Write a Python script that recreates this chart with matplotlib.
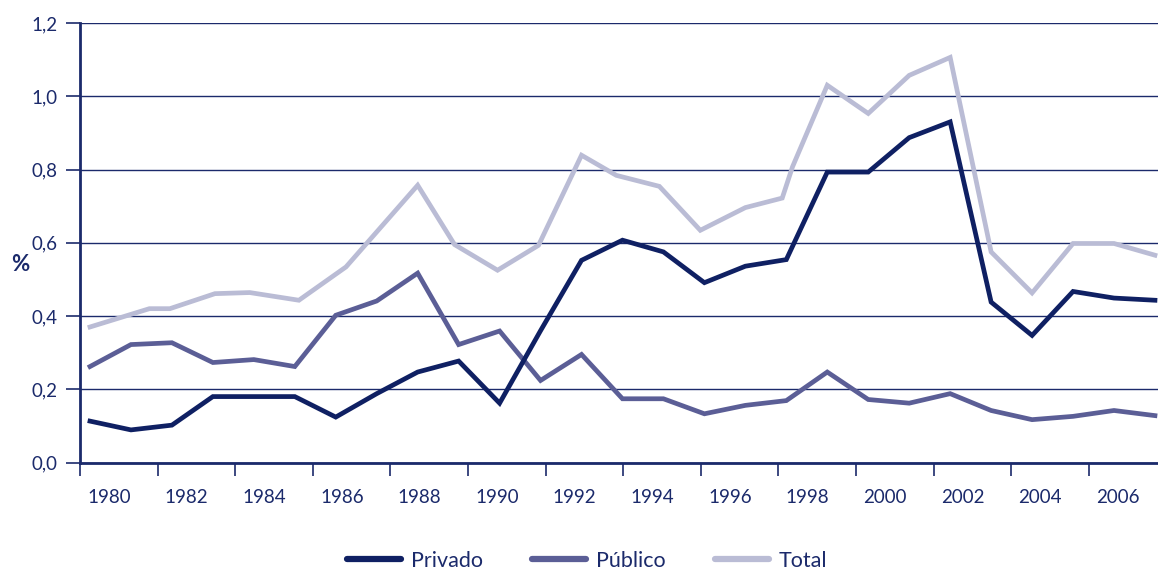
import matplotlib
matplotlib.use("Agg")
import matplotlib.pyplot as plt
import numpy as np

# ---- data ----
years = list(range(1980, 2007))
privado = [0.113, 0.089, 0.102, 0.180, 0.180, 0.180, 0.124, 0.188, 0.247, 0.277,
           0.162, 0.360, 0.552, 0.607, 0.575, 0.491, 0.536, 0.554, 0.793, 0.793,
           0.887, 0.930, 0.438, 0.347, 0.467, 0.449, 0.443]
publico = [0.262, 0.322, 0.327, 0.273, 0.281, 0.262, 0.402, 0.441, 0.517, 0.322,
           0.359, 0.224, 0.295, 0.174, 0.174, 0.133, 0.156, 0.169, 0.247, 0.172,
           0.162, 0.188, 0.142, 0.117, 0.126, 0.142, 0.128]
total_years = [1980, 1981.45, 1981.95, 1983.05, 1983.9, 1985.1, 1986.25, 1988, 1988.9,
               1989.95, 1990.95, 1992, 1992.85, 1993.9, 1994.9, 1996.0, 1996.9,
               1997.15, 1998, 1999, 2000, 2001, 2002, 2003, 2004, 2005, 2006]
total = [0.370, 0.420, 0.420, 0.461, 0.464, 0.443, 0.534, 0.757, 0.595,
         0.525, 0.593, 0.839, 0.784, 0.754, 0.634, 0.696, 0.722,
         0.807, 1.030, 0.953, 1.057, 1.106, 0.575, 0.463, 0.598, 0.598, 0.566]
tick_labels = ["1980", "1982", "1984", "1986", "1988", "1990", "1992",
               "1994", "1996", "1998", "2000", "2002", "2004", "2006"]
y_labels = ["0,0", "0,2", "0,4", "0,6", "0,8", "1,0", "1,2"]

# ---- style ----
navy = "#1b2a6b"
c_priv = "#0f2063"
c_pub = "#5b5e96"
c_tot = "#babcd5"
plt.rcParams['font.family'] = ['Lato', 'DejaVu Sans']

fig = plt.figure(figsize=(11.58, 5.71), dpi=100)
ax = fig.add_axes([80 / 1158, 1 - 462.5 / 571, 1 - 80 / 1158, (462.5 - 23) / 571])

lw = 3.4
ax.plot(years, privado, color=c_priv, lw=lw, solid_joinstyle='miter', label="Privado", zorder=5)
ax.plot(years, publico, color=c_pub, lw=lw, solid_joinstyle='miter', label="Público", zorder=4)
ax.plot(total_years, total, color=c_tot, lw=lw, solid_joinstyle='miter', label="Total", zorder=3)

px_per_year = 40.96
xmin = 1980 - 10 / px_per_year
xmax = 1980 + (1158 - 90) / px_per_year
ax.set_xlim(xmin, xmax)
ax.set_ylim(0, 1.2)

# y axis
ax.set_yticks(np.arange(0, 1.21, 0.2))
ax.set_yticklabels(y_labels)
ax.yaxis.grid(True, color=navy, lw=1.0)
ax.set_axisbelow(True)

# x axis: category-style ticks with labels between them
step = 77.6 / px_per_year
major = [xmin + i * step for i in range(14)]
minor = [xmin + (29 / px_per_year) + i * step for i in range(14)]
ax.set_xticks(major)
ax.set_xticklabels([""] * len(major))
ax.set_xticks(minor, minor=True)
ax.set_xticklabels(tick_labels, minor=True)
ax.tick_params(axis='x', which='major', direction='out', length=9, width=1.2, color=navy)
ax.tick_params(axis='x', which='minor', length=0, pad=19, labelsize=13.5, labelcolor=navy)
ax.tick_params(axis='y', direction='out', length=10, width=1.2, color=navy,
               pad=6, labelsize=13.5, labelcolor=navy)

for s in ['top', 'right']:
    ax.spines[s].set_visible(False)
for s in ['left', 'bottom']:
    ax.spines[s].set_color(navy)
    ax.spines[s].set_linewidth(2.0)

fig.text(20 / 1158, 1 - 264 / 571, "%", ha='center', va='center', fontsize=16,
         fontweight='bold', color=navy)

leg = fig.legend(loc='center', bbox_to_anchor=(587 / 1158, 1 - 561 / 571), ncol=3,
                 frameon=False, fontsize=15.5, handlelength=2.5, columnspacing=2.3,
                 handletextpad=0.45)
for t in leg.get_texts():
    t.set_color(navy)
for h in leg.get_lines():
    h.set_linewidth(4.5)
    h.set_solid_capstyle('round')

fig.savefig("out.png", dpi=100)
